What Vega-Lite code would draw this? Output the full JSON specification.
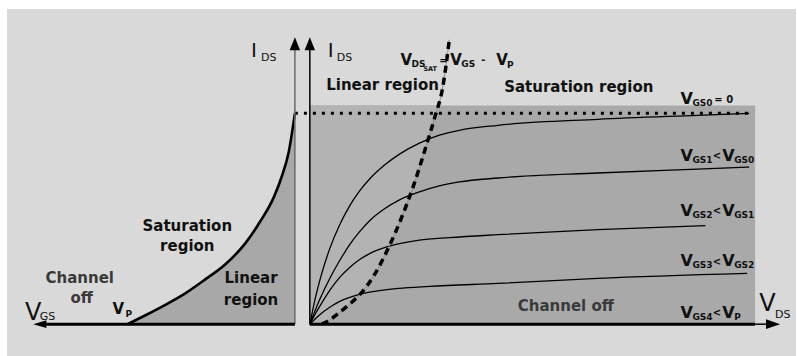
{
  "$schema": "https://vega.github.io/schema/vega-lite/v6.json",
  "width": 797,
  "height": 356,
  "padding": 0,
  "autosize": {"type": "fit", "contains": "padding"},
  "background": "#ffffff",
  "config": {"view": {"stroke": null}, "text": {"font": "DejaVu Sans"}},
  "datasets": {
    "bg": [{"x": -30.4, "x2": 48.8, "y": -3.2, "y2": 31.7}],
    "panel": [{"x": 0, "x2": 44.7, "y": 0, "y2": 22.0}],
    "linArea": [
      {"x": 1.2, "y": 0}, {"x": 1.8, "y": 0.3}, {"x": 3.0, "y": 1.2}, {"x": 4.2, "y": 2.2},
      {"x": 5.3, "y": 3.3}, {"x": 6.5, "y": 5.0}, {"x": 7.9, "y": 7.7}, {"x": 9.2, "y": 10.7},
      {"x": 10.4, "y": 13.9}, {"x": 11.7, "y": 18.0}, {"x": 12.6, "y": 21.0}, {"x": 12.9, "y": 22.0}
    ],
    "dashed": [
      {"x": 1.2, "y": 0}, {"x": 1.8, "y": 0.3}, {"x": 3.0, "y": 1.2}, {"x": 4.2, "y": 2.2},
      {"x": 5.3, "y": 3.3}, {"x": 6.5, "y": 5.0}, {"x": 7.9, "y": 7.7}, {"x": 9.2, "y": 10.7},
      {"x": 10.4, "y": 13.9}, {"x": 11.7, "y": 18.0}, {"x": 12.6, "y": 21.0}, {"x": 13.3, "y": 23.6},
      {"x": 14.0, "y": 28.6}
    ],
    "leftCurve": [
      {"x": -18.3, "y": 0}, {"x": -16.5, "y": 0.9}, {"x": -14.5, "y": 1.95}, {"x": -12.5, "y": 3.1},
      {"x": -10.5, "y": 4.5}, {"x": -8.5, "y": 6.0}, {"x": -6.5, "y": 8.1}, {"x": -5.0, "y": 10.3},
      {"x": -3.6, "y": 12.8}, {"x": -2.8, "y": 14.9}, {"x": -2.1, "y": 17.4}, {"x": -1.5, "y": 21.2}
    ],
    "curves": [
      {"s": "c0", "x": 0, "y": 0}, {"s": "c0", "x": 0.5, "y": 2.4}, {"s": "c0", "x": 1.0, "y": 4.4},
      {"s": "c0", "x": 2.0, "y": 7.6}, {"s": "c0", "x": 3.0, "y": 10.0}, {"s": "c0", "x": 4.0, "y": 11.9},
      {"s": "c0", "x": 5.0, "y": 13.4}, {"s": "c0", "x": 6.0, "y": 14.6}, {"s": "c0", "x": 7.5, "y": 16.0},
      {"s": "c0", "x": 9.0, "y": 17.1}, {"s": "c0", "x": 11.0, "y": 18.2}, {"s": "c0", "x": 13.0, "y": 19.0},
      {"s": "c0", "x": 15.0, "y": 19.5}, {"s": "c0", "x": 18.9, "y": 20.0}, {"s": "c0", "x": 28.9, "y": 20.6},
      {"s": "c0", "x": 38.9, "y": 21.0}, {"s": "c0", "x": 44.1, "y": 21.2},
      {"s": "c1", "x": 0, "y": 0}, {"s": "c1", "x": 0.5, "y": 1.3}, {"s": "c1", "x": 1.0, "y": 2.5},
      {"s": "c1", "x": 2.0, "y": 4.6}, {"s": "c1", "x": 3.0, "y": 6.4}, {"s": "c1", "x": 4.0, "y": 8.0},
      {"s": "c1", "x": 5.0, "y": 9.3}, {"s": "c1", "x": 6.0, "y": 10.4}, {"s": "c1", "x": 7.5, "y": 11.6},
      {"s": "c1", "x": 9.0, "y": 12.5}, {"s": "c1", "x": 11.0, "y": 13.3}, {"s": "c1", "x": 13.0, "y": 13.9},
      {"s": "c1", "x": 15.0, "y": 14.3}, {"s": "c1", "x": 18.9, "y": 14.7}, {"s": "c1", "x": 28.9, "y": 15.2},
      {"s": "c1", "x": 38.9, "y": 15.6}, {"s": "c1", "x": 44.1, "y": 15.8},
      {"s": "c2", "x": 0, "y": 0}, {"s": "c2", "x": 0.5, "y": 0.95}, {"s": "c2", "x": 1.0, "y": 1.8},
      {"s": "c2", "x": 2.0, "y": 3.4}, {"s": "c2", "x": 3.0, "y": 4.7}, {"s": "c2", "x": 4.0, "y": 5.7},
      {"s": "c2", "x": 5.0, "y": 6.5}, {"s": "c2", "x": 6.0, "y": 7.1}, {"s": "c2", "x": 7.5, "y": 7.7},
      {"s": "c2", "x": 9.0, "y": 8.1}, {"s": "c2", "x": 11.0, "y": 8.45}, {"s": "c2", "x": 14.0, "y": 8.7},
      {"s": "c2", "x": 18.9, "y": 9.0}, {"s": "c2", "x": 28.9, "y": 9.5}, {"s": "c2", "x": 39.7, "y": 9.9},
      {"s": "c3", "x": 0, "y": 0}, {"s": "c3", "x": 0.5, "y": 0.5}, {"s": "c3", "x": 1.0, "y": 0.95},
      {"s": "c3", "x": 2.0, "y": 1.7}, {"s": "c3", "x": 3.0, "y": 2.3}, {"s": "c3", "x": 4.0, "y": 2.7},
      {"s": "c3", "x": 5.0, "y": 3.0}, {"s": "c3", "x": 6.5, "y": 3.3}, {"s": "c3", "x": 8.9, "y": 3.6},
      {"s": "c3", "x": 12.0, "y": 3.8}, {"s": "c3", "x": 18.9, "y": 4.1}, {"s": "c3", "x": 28.9, "y": 4.6},
      {"s": "c3", "x": 43.9, "y": 5.1}
    ],
    "dotted": [{"x": -1.5, "x2": 44.1, "y": 21.2}],
    "axisLeftV": [{"x": -1.5, "y": 0, "y2": 28.0}],
    "axisRightV": [{"x": 0, "y": 0, "y2": 28.0}],
    "axisThickH": [{"x": -27.0, "x2": -1.5, "y": 0}, {"x": 0, "x2": 44.7, "y": 0}],
    "axisThinH": [{"x": 44.7, "x2": 46.0, "y": 0}],
    "arrowUp": [{"x": -1.5, "y": 28.2}, {"x": 0, "y": 28.2}],
    "arrowLeft": [{"x": -27.1, "y": 0}],
    "arrowRight": [{"x": 46.5, "y": 0}],
    "regionText": [
      {"t": "Saturation", "x": -12.3, "y": 9.9}, {"t": "region", "x": -12.3, "y": 7.9},
      {"t": "Linear", "x": -5.9, "y": 4.6}, {"t": "region", "x": -5.9, "y": 2.4},
      {"t": "Linear region", "x": 7.3, "y": 24.1}, {"t": "Saturation region", "x": 27.0, "y": 23.9}
    ],
    "channelText": [
      {"t": "Channel", "x": -23.1, "y": 4.6}, {"t": "off", "x": -22.9, "y": 2.6},
      {"t": "Channel off", "x": 25.7, "y": 1.8}
    ],
    "bigV": [{"t": "V", "x": -28.6, "y": 0.4}, {"t": "V", "x": 45.1, "y": 1.3}],
    "bigI": [{"t": "I", "x": -5.9, "y": 26.9}, {"t": "I", "x": 1.8, "y": 26.9}],
    "axisSub": [
      {"t": "GS", "x": -27.1, "y": 0.4}, {"t": "DS", "x": 46.7, "y": 0.6},
      {"t": "DS", "x": -4.9, "y": 26.5}, {"t": "DS", "x": 2.7, "y": 26.5}
    ],
    "boldV15": [
      {"t": "V", "x": -19.8, "y": 1.0}, {"t": "V", "x": 9.1, "y": 26.1},
      {"t": "V", "x": 14.1, "y": 26.1}, {"t": "V", "x": 18.7, "y": 26.1}
    ],
    "boldV16": [
      {"t": "V", "x": 37.2, "y": 22.1},
      {"t": "V", "x": 37.2, "y": 16.4}, {"t": "V", "x": 41.4, "y": 16.4},
      {"t": "V", "x": 37.2, "y": 10.9}, {"t": "V", "x": 41.4, "y": 10.9},
      {"t": "V", "x": 37.2, "y": 5.8}, {"t": "V", "x": 41.4, "y": 5.8},
      {"t": "V", "x": 37.2, "y": 0.6}, {"t": "V", "x": 41.4, "y": 0.6}
    ],
    "boldSub": [
      {"t": "P", "x": -18.5, "y": 0.7}, {"t": "DS", "x": 10.2, "y": 25.9},
      {"t": "GS", "x": 15.2, "y": 25.9}, {"t": "P", "x": 19.8, "y": 25.8},
      {"t": "GS0", "x": 38.4, "y": 21.9},
      {"t": "GS1", "x": 38.4, "y": 16.2}, {"t": "GS0", "x": 42.6, "y": 16.2},
      {"t": "GS2", "x": 38.4, "y": 10.7}, {"t": "GS1", "x": 42.6, "y": 10.7},
      {"t": "GS3", "x": 38.4, "y": 5.6}, {"t": "GS2", "x": 42.6, "y": 5.6},
      {"t": "GS4", "x": 38.4, "y": 0.4}, {"t": "P", "x": 42.6, "y": 0.4}
    ],
    "tinySub": [{"t": "SAT", "x": 11.4, "y": 25.5}],
    "ops": [
      {"t": "=", "x": 13.0, "y": 26.2}, {"t": "-", "x": 17.2, "y": 26.3},
      {"t": "= 0", "x": 40.6, "y": 22.2},
      {"t": "<", "x": 40.45, "y": 16.6}, {"t": "<", "x": 40.45, "y": 11.1},
      {"t": "<", "x": 40.45, "y": 6.0}, {"t": "<", "x": 40.45, "y": 0.8}
    ]
  },
  "encoding": {
    "x": {"field": "x", "type": "quantitative", "scale": {"domain": [-31.1, 48.6], "nice": false, "zero": false}, "axis": null},
    "y": {"field": "y", "type": "quantitative", "scale": {"domain": [-3.0, 32.6], "nice": false, "zero": false}, "axis": null}
  },
  "layer": [
    {"data": {"name": "bg"}, "mark": {"type": "rect", "color": "#d9d9d9"}, "encoding": {"x2": {"field": "x2"}, "y2": {"field": "y2"}}},
    {"data": {"name": "panel"}, "mark": {"type": "rect", "color": "#a9a9a9"}, "encoding": {"x2": {"field": "x2"}, "y2": {"field": "y2"}}},
    {"data": {"name": "linArea"}, "mark": {"type": "area", "orient": "horizontal", "color": "#b3b3b3", "interpolate": "monotone"}, "encoding": {"x2": {"datum": 0}}},
    {"data": {"name": "leftCurve"}, "mark": {"type": "area", "color": "#a8a8a8", "interpolate": "monotone"}, "encoding": {"y2": {"datum": 0}}},
    {"data": {"name": "leftCurve"}, "mark": {"type": "line", "color": "#000000", "strokeWidth": 2.6, "interpolate": "monotone"}, "encoding": {}},
    {"data": {"name": "curves"}, "mark": {"type": "line", "color": "#000000", "strokeWidth": 1.3, "interpolate": "monotone"}, "encoding": {"detail": {"field": "s"}}},
    {"data": {"name": "dashed"}, "mark": {"type": "line", "color": "#8c8c8c", "strokeWidth": 1, "interpolate": "monotone"}, "encoding": {}},
    {"data": {"name": "dashed"}, "mark": {"type": "line", "color": "#000000", "strokeWidth": 3.5, "strokeDash": [7, 5], "interpolate": "monotone"}, "encoding": {}},
    {"data": {"name": "dotted"}, "mark": {"type": "rule", "color": "#000000", "strokeWidth": 3, "strokeDash": [3, 6]}, "encoding": {"x2": {"field": "x2"}}},
    {"data": {"name": "axisLeftV"}, "mark": {"type": "rule", "color": "#6a6a6a", "strokeWidth": 1.5}, "encoding": {"y2": {"field": "y2"}}},
    {"data": {"name": "axisRightV"}, "mark": {"type": "rule", "color": "#000000", "strokeWidth": 1.5}, "encoding": {"y2": {"field": "y2"}}},
    {"data": {"name": "axisThickH"}, "mark": {"type": "rule", "color": "#000000", "strokeWidth": 3}, "encoding": {"x2": {"field": "x2"}}},
    {"data": {"name": "axisThinH"}, "mark": {"type": "rule", "color": "#000000", "strokeWidth": 1.5}, "encoding": {"x2": {"field": "x2"}}},
    {"data": {"name": "arrowUp"}, "mark": {"type": "point", "shape": "M0,-1L-0.8,1L0.8,1Z", "filled": true, "color": "#000000", "opacity": 1, "size": 170}, "encoding": {}},
    {"data": {"name": "arrowLeft"}, "mark": {"type": "point", "shape": "M-1,0L1,-0.6L1,0.6Z", "filled": true, "color": "#000000", "opacity": 1, "size": 170}, "encoding": {}},
    {"data": {"name": "arrowRight"}, "mark": {"type": "point", "shape": "M1,0L-1,-0.7L-1,0.7Z", "filled": true, "color": "#000000", "opacity": 1, "size": 200}, "encoding": {}},
    {"data": {"name": "regionText"}, "mark": {"type": "text", "fontSize": 15, "fontWeight": "bold", "align": "center", "baseline": "middle", "color": "#111111"}, "encoding": {"text": {"field": "t"}}},
    {"data": {"name": "channelText"}, "mark": {"type": "text", "fontSize": 15, "fontWeight": "bold", "align": "center", "baseline": "middle", "color": "#3a3a3a"}, "encoding": {"text": {"field": "t"}}},
    {"data": {"name": "bigV"}, "mark": {"type": "text", "fontSize": 24, "align": "left", "baseline": "alphabetic", "color": "#111111"}, "encoding": {"text": {"field": "t"}}},
    {"data": {"name": "bigI"}, "mark": {"type": "text", "fontSize": 20, "align": "left", "baseline": "alphabetic", "color": "#111111"}, "encoding": {"text": {"field": "t"}}},
    {"data": {"name": "axisSub"}, "mark": {"type": "text", "fontSize": 11, "align": "left", "baseline": "alphabetic", "color": "#111111"}, "encoding": {"text": {"field": "t"}}},
    {"data": {"name": "boldV15"}, "mark": {"type": "text", "fontSize": 15, "fontWeight": "bold", "align": "left", "baseline": "alphabetic", "color": "#111111"}, "encoding": {"text": {"field": "t"}}},
    {"data": {"name": "boldV16"}, "mark": {"type": "text", "fontSize": 16, "fontWeight": "bold", "align": "left", "baseline": "alphabetic", "color": "#111111"}, "encoding": {"text": {"field": "t"}}},
    {"data": {"name": "boldSub"}, "mark": {"type": "text", "fontSize": 9, "fontWeight": "bold", "align": "left", "baseline": "alphabetic", "color": "#111111"}, "encoding": {"text": {"field": "t"}}},
    {"data": {"name": "tinySub"}, "mark": {"type": "text", "fontSize": 6.5, "fontWeight": "bold", "align": "left", "baseline": "alphabetic", "color": "#111111"}, "encoding": {"text": {"field": "t"}}},
    {"data": {"name": "ops"}, "mark": {"type": "text", "fontSize": 10, "fontWeight": "bold", "align": "left", "baseline": "alphabetic", "color": "#111111"}, "encoding": {"text": {"field": "t"}}}
  ]
}
